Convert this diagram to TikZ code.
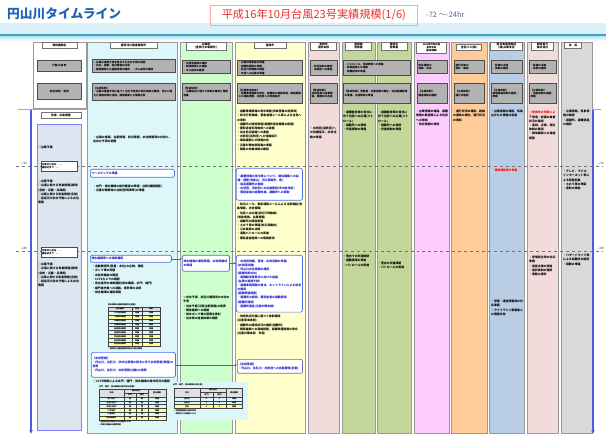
\documentclass[tikz,border=0pt]{standalone}
\usepackage{fontspec}
\setmainfont{Noto Sans CJK JP}
\usetikzlibrary{arrows.meta}
\XeTeXlinebreaklocale "ja"
\XeTeXlinebreakskip=0pt plus 0.1pt
\newcommand\fsz[2]{\fontsize{#1}{#2}\selectfont}
\definecolor{titleblue}{HTML}{1F64B4}
\definecolor{titlered}{HTML}{E8312F}
\definecolor{rangeblue}{HTML}{4A6A9A}
\definecolor{bandlight}{HTML}{DCF0FA}
\definecolor{bandteal}{HTML}{3AA6C9}
\definecolor{bandmid}{HTML}{C2E5F3}
\definecolor{cyanbg}{HTML}{DDF6FA}
\definecolor{greenbg}{HTML}{CCFFCC}
\definecolor{yellowbg}{HTML}{FFFFCC}
\definecolor{pinkbg}{HTML}{F2DCDB}
\definecolor{olivebg}{HTML}{C4D79B}
\definecolor{magbg}{HTML}{FFCCFF}
\definecolor{orangebg}{HTML}{FFCC99}
\definecolor{bluebg}{HTML}{B9CDE5}
\definecolor{graybg}{HTML}{D9D9D9}
\definecolor{leftfill}{HTML}{DCE6F1}
\definecolor{leftline}{HTML}{7F7FFF}
\definecolor{tline}{HTML}{5555E6}
\definecolor{btext}{HTML}{1A1AD0}
\definecolor{bborder}{HTML}{4F6FE8}
\definecolor{yellowcell}{HTML}{FFFF99}
\tikzset{
  colrect/.style={draw=black!40, line width=0.8pt},
  hdr/.style={draw=black!55, fill=white, font=\fsz{2.8}{3.5}\bfseries, align=center, inner sep=0.8pt, line width=0.5pt, anchor=north, minimum height=6.5},
  gbox/.style={draw=black!70, fill=black!30, line width=0.9pt, font=\fsz{2.6}{3.4}\bfseries, align=left, inner sep=1.2pt, anchor=north west},
  txt/.style={font=\fsz{2.9}{4.2}\bfseries, align=left, inner sep=0pt, anchor=north west},
  bbox/.style={draw=bborder, rounded corners=2pt, fill=white, text=btext, line width=0.7pt, font=\fsz{2.9}{4.1}\bfseries, align=left, inner sep=1.2pt, anchor=north west},
  lbox/.style={draw=black!70, fill=white, font=\fsz{2.4}{3.2}\bfseries, align=left, inner sep=0.8pt, anchor=north west, line width=0.5pt},
  tl/.style={font=\fsz{3}{3.5}, inner sep=0.5pt, text=black!70},
  tbl/.style={draw=black!75, line width=0.35pt},
  cell/.style={font=\fsz{2}{2.4}\bfseries, inner sep=0pt},
  conn/.style={draw=black!60, line width=0.5pt, -{Stealth[length=2pt,width=2pt]}},
}
\begin{document}
\begin{tikzpicture}[x=1bp,y=-1bp]
\useasboundingbox (0,0) rectangle (606,439);
\fill[white] (0,0) rectangle (606,439);
% ---- top band and title
\fill[bandlight] (0,23) rectangle (606,34);
\fill[bandteal] (0,34) rectangle (606,36.5);
\shade[top color=bandmid, bottom color=white] (0,36.5) rectangle (606,41);
\node[anchor=west, text=titleblue, font=\fsz{12.8}{14}\bfseries, inner sep=0] (title) at (7,14) {円山川タイムライン};
\node[draw=red!35, line width=0.6pt, text=titlered, font=\fsz{11.2}{12}, minimum width=208, minimum height=20, inner sep=0, anchor=north west] (sub) at (210,5) {平成16年10月台風23号実績規模(1/6)};
\node[anchor=west, text=rangeblue, font=\fsz{7.5}{9}, inner sep=0] (range) at (426,15) {-72 ～-24hr};
% ---- columns
\filldraw[colrect, fill=white] (33,42) rectangle (86,108);
\filldraw[colrect, fill=cyanbg] (87,42) rectangle (177,433);
\filldraw[colrect, fill=greenbg] (180,42) rectangle (232,433);
\filldraw[colrect, fill=yellowbg] (235,42) rectangle (305,433);
\filldraw[colrect, fill=pinkbg] (308,42) rectangle (339,433);
\filldraw[colrect, fill=olivebg] (342,42) rectangle (375,433);
\filldraw[colrect, fill=olivebg] (377,42) rectangle (411,433);
\filldraw[colrect, fill=magbg] (414,42) rectangle (449,433);
\filldraw[colrect, fill=orangebg] (451,42) rectangle (487,433);
\filldraw[colrect, fill=bluebg] (489,42) rectangle (524,433);
\filldraw[colrect, fill=pinkbg] (527,42) rectangle (558,433);
\filldraw[colrect, fill=graybg] (561,42) rectangle (592,433);
\draw[black!35, line width=0.5pt] (18,109) -- (87,109);
\draw[black!35, line width=0.5pt] (592,109) -- (601,109);
% ---- headers
\node[hdr, minimum width=35] (h1) at (59.5,42) {関係機関名};
\node[hdr, minimum width=47] (h2) at (133.5,42) {豊岡河川国道事務所};
\node[hdr, minimum width=40] (h3) at (206,42) {兵庫県\\(豊岡土木事務所)};
\node[hdr, minimum width=32] (h4) at (270,42) {豊岡市};
\node[hdr, minimum width=26] (h5) at (323.5,42) {豊岡市\\消防本部};
\node[hdr, minimum width=26] (h6) at (358.5,42) {豊岡南\\警察署};
\node[hdr, minimum width=26] (h7) at (394,42) {豊岡北\\警察署};
\node[hdr, minimum width=30, font=\fsz{2.4}{3.2}\bfseries] (h8) at (431.5,42) {NHK神戸放送局\\豊岡支局\\(報道機関)};
\node[hdr, minimum width=25] (h9) at (469,44) {全但バス(株)};
\node[hdr, minimum width=32] (h10) at (506.5,42) {西日本電信電話\\(株)兵庫支店};
\node[hdr, minimum width=22] (h11) at (542.5,42) {関西電力\\株式会社};
\node[hdr, minimum width=17] (h12) at (573,42) {住　民};
% ---- gray boxes
\node[gbox, align=center, minimum width=44, minimum height=11, text width=41.6] (g1a) at (37,60) {行動の目安};
\node[gbox, align=center, minimum width=44, minimum height=16, text width=41.6] (g1b) at (37,83) {防災体制・態勢};
\node[gbox, minimum width=83, minimum height=13, text width=80.6] (g2a) at (92,59) {・台風の進路予測を踏まえた出水予測の把握\\・出水、被害、防災情報の共有\\・関係機関との連絡体制の確認　・ダム操作の確認};
\node[gbox, minimum width=83, minimum height=17, text width=80.6] (g2b) at (92,83) {【注意体制】\\・台風の進路予測に基づく出水予測及び防災体制の確認、出水に備えた資機材等の点検、関係機関との情報共有};
\node[gbox, minimum width=48, minimum height=13, text width=45.6] (g3a) at (182,60) {・水防資機材の確認\\・関係機関との連絡\\・ダム操作の確認};
\node[gbox, minimum width=48, minimum height=17, text width=45.6] (g3b) at (182,83) {【警戒体制】\\・台風接近に備えた体制の確認と情報収集};
\node[gbox, minimum width=65, minimum height=15, text width=62.6] (g4a) at (237,60) {・災害対策本部の準備\\・避難所開設の準備\\・防災行政無線の確認\\・市民への広報の準備};
\node[gbox, minimum width=65, minimum height=20, text width=62.6] (g4b) at (237,83) {【災害警戒本部】\\・避難準備情報の発令、避難所の開設準備、関係機関との連絡調整、水防団への待機指示};
\node[gbox, minimum width=27, minimum height=15, text width=24.6] (g5a) at (310,60) {・防災体制の確認\\・消防団への連絡};
\node[gbox, minimum width=27, minimum height=20, text width=24.6] (g5b) at (310,83) {【警戒体制】\\消防団員の招集準備、資機材の点検};
\node[gbox, minimum width=67, minimum height=15, text width=64.6] (g67a) at (343,60) {・パトロール、交通規制への準備\\・関係機関との連絡\\・避難誘導の準備};
\node[gbox, minimum width=67, minimum height=20, text width=64.6] (g67b) at (343,83) {【警戒体制】警察署・交番体制の確立、住民避難誘導の準備、交通規制の準備};
\node[gbox, minimum width=30, minimum height=13, text width=27.6] (g8a) at (417,60) {防災情報の\\収集・共有};
\node[gbox, minimum width=30, minimum height=20, text width=27.6] (g8b) at (417,83) {【注意体制】\\報道体制の確認};
\node[gbox, minimum width=30, minimum height=13, text width=27.6] (g9a) at (454,60) {運行計画の\\検討・確認};
\node[gbox, minimum width=30, minimum height=20, text width=27.6] (g9b) at (454,83) {【注意体制】\\運行の確認};
\node[gbox, minimum width=31, minimum height=13, text width=28.6] (g10a) at (491,60) {・設備の点検\\・体制の確認};
\node[gbox, minimum width=31, minimum height=20, text width=28.6] (g10b) at (491,83) {【注意体制】\\情報連絡体制の確認・準備};
\node[gbox, minimum width=27, minimum height=13, text width=24.6] (g11a) at (529,60) {・設備の点検\\・体制の確認};
\node[gbox, minimum width=27, minimum height=20, text width=24.6] (g11b) at (529,83) {【注意体制】\\・復旧体制の確認・準備};
% ---- timeline axes
\draw[tline, line width=1.4pt, -{Latex[length=4pt,width=4pt]}] (31,110) -- (31,434);
\draw[tline, line width=1.4pt, -{Latex[length=4pt,width=4pt]}] (593,110) -- (593,434);
\node[hdr, minimum width=40, anchor=north] (h0) at (61,112) {気象・水象情報};
\filldraw[draw=leftline, fill=leftfill, line width=0.8pt] (37,124) rectangle (81,430);
\draw[black!55, dashed, line width=0.5pt] (16,166) -- (602,166);
\draw[black!55, dashed, line width=0.5pt] (16,251) -- (602,251);
\node[tl, anchor=south east] (l1) at (28,165) {-72h};
\node[tl, anchor=south east] (l2) at (28,250) {-48h};
\node[tl, anchor=south east] (r1) at (605,165) {-72h};
\node[tl, anchor=south east] (r2) at (605,250) {-48h};
% ---- left column
\node[txt, text width=42] (lt1) at (38,146) {○台風予報};
\node[lbox, text width=35, minimum height=10] (lb1) at (41,161) {台風中心気圧　…\\最接近まで　…};
\node[txt, text width=42] (lt2) at (38,180) {○台風予報\\○台風に関する気象情報(随時)(全般・近畿・兵庫県)\\○台風に関する気象情報(全般)\\○指定河川洪水予報による水位情報};
\node[lbox, text width=35, minimum height=10] (lb2) at (41,247) {台風中心気圧　…\\最接近まで　…};
\node[txt, text width=42] (lt3) at (38,263) {○台風予報\\○台風に関する気象情報(随時)(全般・近畿・兵庫県)\\○台風に関する気象情報(全般)\\○指定河川洪水予報による水位情報};
% ---- column 2
\node[txt, text width=80] (t2a) at (93,136) {・台風の進路、台風情報、防災情報、水位情報等の共有と、出水の予測の把握};
\node[bbox, text width=82, minimum height=8] (b2a) at (90,169) {ベースマップの準備};
\node[txt, text width=80] (t2b) at (93,185) {・水門・排水機場の操作確認の準備・点検(機器確認)\\・災害対策車両の点検(照明車等)の準備};
\node[bbox, text width=79, minimum height=7] (b2b) at (90,255) {排水機場等への体制確認};
\node[txt, text width=82, font=\fsz{2.9}{4.3}\bfseries] (t2c) at (92,265) {・自動観測所(雨量・水位)の点検、確認\\・ポンプ車の配備\\・水防資機材の確認\\・CCTVカメラの確認\\・各出張所の体制確認(排水機場、水門、樋門)\\・樋門操作員への連絡、堤防等の点検\\・排水機場の運転準備};
% table 1
\node[cell, anchor=south west] (t1t) at (108,306.5) {排水機場の運転準備状況(直轄)};
\fill[black!15] (108,307) rectangle (160,311);
\foreach \i in {2,7,9} {\pgfmathsetmacro\yy{311+(\i-1)*3.9}\fill[yellowcell] (108,\yy) rectangle (160,\yy+3.9);}
\foreach \i/\nm in {1/六方,2/八条,3/大磯,4/中郷,5/赤崎,6/鳥居,7/宮島,8/出石,9/奈佐} {
  \pgfmathsetmacro\yy{311+(\i-1)*3.9}
  \draw[tbl] (108,\yy) -- (160,\yy);
  \node[cell] (t1n\i) at (120,\yy+1.95) {\nm 排水機場};
  \node[cell] (t1s\i) at (137,\yy+1.95) {準備};
  \node[cell] (t1h\i) at (151,\yy+1.95) {待機};
}
\draw[tbl] (108,307) rectangle (160,346.1);
\draw[tbl] (132,307) -- (132,346.1) (142,307) -- (142,346.1);
\node[cell] (t1c1) at (120,309) {排水機場};
\node[cell] (t1c2) at (137,309) {状況};
\node[cell] (t1c3) at (151,309) {時刻};
\node[cell, anchor=north west] (t1note) at (108,347.5) {※豊岡河川国道事務所管内の排水機場};
\node[bbox, text width=82, minimum height=25] (b2c) at (91,352) {【水防警報】\\・円山川、出石川：洪水注意報の発令に伴う水防警報(準備)の発表\\・円山川、出石川：水防警報(出動)の発表};
\node[txt, text width=82] (t2d) at (93,379.5) {○CCTV映像による水門・樋門・排水機場の操作状況の確認};
% table 2
\node[cell, anchor=south west] (t2t) at (99,388.5) {水門・樋門・排水機場の操作状況(直轄)};
\fill[black!12] (99,389) rectangle (166,397);
\foreach \i in {4,6} {\pgfmathsetmacro\yy{397+(\i-1)*3.8}\fill[yellowcell] (99,\yy) rectangle (166,\yy+3.8);}
\foreach \i/\nm in {1/本川水門,2/出石川水門,3/奈佐川水門,4/六方樋門,5/八条樋門,6/排水機場計} {
  \pgfmathsetmacro\yy{397+(\i-1)*3.8}
  \draw[tbl] (99,\yy) -- (166,\yy);
  \node[cell] (t2n\i) at (111.5,\yy+1.9) {\nm};
  \node[cell] (t2a\i) at (130,\yy+1.9) {開};
  \node[cell] (t2b\i) at (142,\yy+1.9) {開};
  \node[cell] (t2c\i) at (157,\yy+1.9) {待機};
}
\draw[tbl] (99,389) rectangle (166,419.8);
\draw[tbl] (124,389) -- (124,419.8) (148,389) -- (148,419.8) (136,393) -- (136,419.8) (124,393) -- (148,393);
\node[cell] (t2h1) at (111.5,393) {名称};
\node[cell] (t2h2) at (136,391) {操作状況};
\node[cell] (t2h3) at (130,395) {水門};
\node[cell] (t2h4) at (142,395) {樋門};
\node[cell] (t2h5) at (157,393) {排水機場};
\node[cell, anchor=north west, align=left] (t2note) at (99,421) {※操作状況は現地からの報告による\\※時刻は最新の確認時刻};
% table 3
\fill[cyanbg] (172,382) rectangle (248,420);
\node[cell, anchor=north west] (t3t) at (173,383.5) {水門・樋門・排水機場の状況(県)};
\fill[black!12] (174,388) rectangle (242,397);
\fill[yellowcell] (174,404.6) rectangle (242,408.4);
\foreach \i/\nm in {1/円山川,2/出石川,3/合計} {
  \pgfmathsetmacro\yy{397+(\i-1)*3.8}
  \draw[tbl] (174,\yy) -- (242,\yy);
  \node[cell] (t3n\i) at (187,\yy+1.9) {\nm};
  \node[cell] (t3a\i) at (206.5,\yy+1.9) {0};
  \node[cell] (t3b\i) at (219.5,\yy+1.9) {0};
  \node[cell] (t3c\i) at (234,\yy+1.9) {待機};
}
\draw[tbl] (174,388) rectangle (242,408.4);
\draw[tbl] (200,388) -- (200,408.4) (226,388) -- (226,408.4) (213,392.5) -- (213,408.4) (200,392.5) -- (226,392.5);
\node[cell] (t3h1) at (187,392.5) {河川};
\node[cell] (t3h2) at (213,390.2) {操作状況};
\node[cell] (t3h3) at (206.5,394.8) {水門};
\node[cell] (t3h4) at (219.5,394.8) {樋門};
\node[cell] (t3h5) at (234,392.5) {排水機場};
\node[cell, anchor=north west, align=left] (t3note) at (174,410) {※県管理施設の操作状況\\※現地からの報告による};
% ---- column 3
\node[bbox, text width=45, minimum height=16] (b3a) at (182,255) {排水機場の運転準備、水防資機材の準備};
\node[txt, text width=47] (t3x) at (183,296) {※水位予測、出石川観測所の水位の予測\\・洪水予報(氾濫注意情報)の発表\\・関係機関への連絡\\・排水ポンプ車の配備を検討\\・出水時の巡視体制の確認};
% ---- column 4
\node[txt, text width=66] (t4a) at (237,110) {・避難準備情報の発令準備(気象警報の発表時)\\・防災行政無線、緊急速報メール等による住民への周知\\・避難所の開設準備(避難所担当職員の配置)\\・要配慮者利用施設への連絡\\・自主防災組織への連絡\\・水防団(消防団)への待機指示\\・関係機関との情報共有\\・災害対策本部設置の準備\\・職員の参集体制の確認};
\node[bbox, text width=64, minimum height=32] (b4a) at (236,168) {・避難情報の発令等について、関係機関との協議・調整(気象台、河川事務所、県)\\・指定避難所の開設\\・水防団、消防団への出動要請(市内各地区)\\・要配慮者の避難支援、避難所への移動};
\node[txt, text width=66] (t4b) at (237,203) {・防災メール、緊急速報メールによる注意喚起(気象情報、水位情報)\\・住民への広報(防災行政無線)\\(気象情報、台風情報)\\・避難所の開設準備\\・土のう等の準備(防災資機材)\\・公共施設の点検\\・道路パトロールの実施\\・要配慮者施設への情報提供};
\node[bbox, text width=64, minimum height=57] (b4b) at (236,255) {・水防団待機、警戒、水防活動の準備\\(水防団待機)\\・円山川水位情報の確認\\(避難判断水位)\\・避難勧告等発令に向けた協議\\(台風の進路予想)\\・避難準備情報の発令、ホットラインによる助言の確認\\(避難準備情報)\\・避難所の開設、要配慮者の避難誘導\\(避難所開設)\\・避難所運営(災害対策本部)};
\node[txt, text width=66] (t4c) at (237,315) {・地域防災計画に基づく体制確認\\(災害警戒本部)\\・避難所の開設状況の確認(避難所)\\・関係機関への連絡調整、避難準備情報の発令\\(災害対策本部　市長)};
\node[bbox, draw=black!45!blue!60, text width=63, minimum height=14] (b4c) at (237,359) {【水防警報】\\・円山川、出石川：水防団への出動要請(出動)};
% ---- connectors
\draw[conn] (b2b.east) -- (b2b.east -| b3a.west);
\draw[conn] (b3a.east) -- (b3a.east -| b4b.west);
\draw[conn] (b2c.east) -- (b2c.east -| b4c.west);
% ---- columns 5 to 12
\node[txt, text width=28] (t5a) at (310,127) {・水防団(消防団)への待機指示、水防活動の準備};
\node[txt, text width=31] (t6a) at (343,111) {・避難勧告等の発令に伴う住民への広報(パトロール)\\・避難所への誘導\\・交通規制の準備};
\node[txt, text width=31] (t7a) at (378,111) {・避難勧告等の発令に伴う住民への広報(パトロール)\\・避難所への誘導\\・交通規制の準備};
\node[txt, text width=31] (t6b) at (343,255) {・管内での交通規制\\・避難誘導の実施\\・パトロールの実施};
\node[txt, text width=31] (t7b) at (378,262) {・管内の交通規制\\・パトロールの実施};
\node[txt, text width=32] (t8a) at (416,110) {・台風情報の報道、避難情報の報道等による住民への周知\\・防災情報の発信};
\node[txt, text width=32] (t9a) at (453,110) {・運行状況の確認、路線の運休の検討、運行状況の周知};
\node[txt, text width=32] (t10a) at (491,110) {・台風情報の確認、気象台からの情報の収集};
\node[txt, fill=red!22, text=red, inner sep=0.3pt] (r10) at (494,168.5) {情報連絡室の設置};
\node[txt, text width=32] (t10b) at (491,300) {・停電・通信障害時の対応準備\\・ライフライン事業者との情報共有};
\node[txt, text=red, text width=28] (r11) at (529,110.5) {※豊岡市の判断による};
\node[txt, text width=28] (t11a) at (529,115.5) {・停電・設備の被害状況の確認\\・巡視、点検、復旧体制の確保\\・関係機関との連絡調整};
\node[txt, text width=28] (t11b) at (529,256) {・停電発生時の対応準備\\・巡視点検の実施\\・復旧体制の確認\\・情報の提供};
\node[txt, text width=28] (t12a) at (563,110) {・台風情報、気象情報の確認\\・避難所、避難経路の確認};
\node[txt, text width=28] (t12b) at (563,170) {・テレビ、ラジオ、インターネット等による情報収集\\・土のう等の準備\\・家財の移動};
\node[txt, text width=28] (t12c) at (563,254) {・ハザードマップ等による避難所の確認\\・避難の準備};
\end{tikzpicture}
\end{document}
